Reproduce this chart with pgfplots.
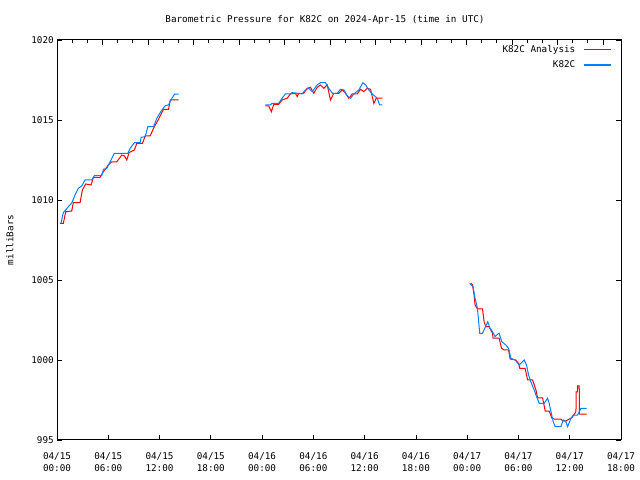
\documentclass[border=0pt]{standalone}
\usepackage{fontspec}
\setmainfont{DejaVu Sans Mono}
\usepackage{pgfplots}
\pgfplotsset{compat=1.18}
\definecolor{obsblue}{RGB}{0,128,255}
\begin{document}
\fontsize{9.3bp}{12bp}\selectfont
\begin{tikzpicture}[x=1bp,y=1bp]
\useasboundingbox (0,0) rectangle (640,480);
% top axis ticks (different spacing)
\begin{axis}[at={(57bp,40bp)}, anchor=south west, scale only axis,
  width=564bp, height=400bp, xmin=0, xmax=564, ymin=0, ymax=1,
  axis line style={draw=none}, xtick pos=right, ytick=\empty,
  xtick={0,45.5,...,564}, minor xtick={15.17,30.33,60.67,75.83,106.17,121.33,151.67,166.83,197.17,212.33,242.67,257.83,288.17,303.33,333.67,348.83,379.17,394.33,424.67,439.83,470.17,485.33,515.67,530.83},
  xticklabels={}, tick align=inside, major tick length=5bp, minor tick length=3bp,
  tick style={black, line width=0.8bp}]
\end{axis}
\begin{axis}[at={(57bp,40bp)}, anchor=south west, scale only axis,
  width=564bp, height=400bp,
  xmin=0, xmax=66, ymin=995, ymax=1020,
  xtick={0,6,...,66},
  xticklabels={{04/15\\00:00},{04/15\\06:00},{04/15\\12:00},{04/15\\18:00},{04/16\\00:00},{04/16\\06:00},{04/16\\12:00},{04/16\\18:00},{04/17\\00:00},{04/17\\06:00},{04/17\\12:00},{04/17\\18:00}},
  xticklabel style={align=center, font=\fontsize{9.3bp}{12bp}\selectfont, yshift=-9bp},
  ytick={995,1000,...,1020},
  yticklabel style={/pgf/number format/assume math mode=true, /pgf/number format/1000 sep={}, font=\fontsize{9.3bp}{12bp}\selectfont},
  xtick pos=left, ytick pos=both,
  tick align=inside, major tick length=5bp,
  tick style={black, line width=0.8bp},
  axis line style={black, line width=1bp},
  title={Barometric Pressure for K82C on 2024-Apr-15 (time in UTC)},
  title style={anchor=base, at={(0.5,1)}, yshift=12bp, xshift=-14bp, font=\fontsize{9.3bp}{12bp}\selectfont},
  ylabel={milliBars},
  every axis y label/.style={at={(axis description cs:0,0.5)}, xshift=-47bp, rotate=90, anchor=center, font=\fontsize{9.3bp}{12bp}\selectfont},
  unbounded coords=jump,
  legend style={at={(1,1)}, anchor=north east, xshift=-8bp, yshift=-2bp, draw=none, fill=none, font=\fontsize{9.3bp}{12bp}\selectfont, row sep=3bp, column sep=6bp, inner sep=1bp},
  legend cell align=right, legend plot pos=right,
  legend image code/.code={\draw[#1, line width=1.5bp] (0bp,0bp) -- (27bp,0bp);},
]
\addplot[red, line width=1bp, sharp plot, no markers] coordinates {
(0.35,1008.54) (0.74,1008.54) (1.02,1009.27) (1.72,1009.31) (1.91,1009.83) (2.70,1009.83) (2.97,1010.63) (3.36,1011.00) (3.99,1010.94) (4.26,1011.42) (5.04,1011.42) (5.43,1011.77) (6.01,1012.19) (6.41,1012.39) (7.00,1012.39) (7.58,1012.81) (7.89,1012.75) (8.17,1012.50) (8.44,1012.96) (9.06,1013.13) (9.34,1013.54) (10.00,1013.54) (10.32,1014.00) (10.90,1014.00) (11.29,1014.48) (11.88,1015.04) (12.46,1015.67) (13.05,1015.67) (13.25,1016.25) (14.22,1016.25)
(20,nan)
(24.38,1015.88) (24.77,1015.88) (25.09,1015.52) (25.36,1015.98) (25.94,1015.98) (26.34,1016.25) (26.93,1016.36) (27.32,1016.63) (27.90,1016.67) (28.10,1016.46) (28.29,1016.67) (28.87,1016.67) (29.27,1016.98) (29.66,1017.04) (30.05,1016.67) (30.45,1017.04) (30.83,1017.19) (31.22,1016.98) (31.62,1017.19) (32.00,1016.25) (32.39,1016.67) (32.98,1016.67) (33.38,1016.88) (33.76,1016.67) (34.15,1016.36) (34.55,1016.63) (35.13,1016.63) (35.52,1016.92) (35.91,1016.77) (36.30,1016.98) (36.69,1016.92) (37.08,1016.04) (37.36,1016.36) (38.07,1016.36)
(44,nan)
(48.45,1004.80) (48.62,1004.69) (48.81,1004.06) (48.92,1003.44) (49.20,1003.19) (49.79,1003.19) (49.98,1002.39) (50.18,1002.08) (50.56,1002.08) (50.96,1001.67) (51.03,1001.36) (51.74,1001.36) (52.02,1000.73) (52.32,1000.63) (52.84,1000.63) (53.03,1000.06) (53.69,1000.00) (54.01,999.79) (54.16,999.48) (54.78,999.48) (55.07,998.75) (55.65,998.75) (56.04,998.13) (56.24,997.64) (56.82,997.64) (57.13,996.81) (57.60,996.81) (57.91,996.36) (58.18,996.31) (58.97,996.31) (59.17,996.19) (59.55,996.19) (59.94,996.31) (60.26,996.39) (60.73,996.77) (60.75,998.00) (60.90,998.00) (60.92,998.38) (61.11,998.38) (61.14,996.61) (61.98,996.61)
};
\addlegendentry{K82C Analysis}
\addplot[obsblue, line width=1bp, sharp plot, no markers] coordinates {
(0.47,1008.54) (0.74,1009.21) (1.29,1009.56) (1.72,1009.81) (2.11,1010.31) (2.50,1010.73) (2.90,1010.88) (3.28,1011.25) (4.07,1011.25) (4.37,1011.52) (5.24,1011.52) (5.43,1011.92) (5.83,1011.98) (6.21,1012.39) (6.72,1012.92) (8.29,1012.92) (8.56,1013.23) (9.06,1013.58) (9.73,1013.58) (9.85,1013.92) (10.32,1013.96) (10.63,1014.58) (11.29,1014.58) (11.69,1015.11) (12.19,1015.56) (12.66,1015.89) (13.05,1015.94) (13.45,1016.36) (13.75,1016.61) (14.22,1016.61)
(20,nan)
(24.38,1015.94) (24.97,1015.94) (25.17,1016.04) (25.94,1016.04) (26.34,1016.36) (26.73,1016.63) (27.32,1016.63) (27.51,1016.71) (28.69,1016.63) (29.07,1016.88) (29.46,1016.98) (29.86,1016.77) (30.45,1017.19) (30.83,1017.33) (31.42,1017.33) (31.81,1016.98) (32.21,1016.67) (32.79,1016.67) (33.18,1016.92) (33.56,1016.88) (33.96,1016.50) (34.35,1016.36) (34.74,1016.63) (35.32,1016.88) (35.79,1017.33) (36.11,1017.19) (36.49,1016.88) (36.89,1016.63) (37.48,1016.36) (37.75,1015.94) (38.07,1015.94)
(44,nan)
(48.30,1004.79) (48.69,1004.58) (48.92,1003.86) (49.20,1003.23) (49.32,1002.50) (49.47,1001.67) (49.79,1001.67) (50.09,1002.02) (50.41,1002.39) (50.64,1002.02) (50.96,1001.77) (51.27,1001.46) (51.55,1001.61) (51.74,1001.67) (52.05,1001.14) (52.52,1000.94) (52.84,1000.73) (53.11,1000.11) (53.61,1000.00) (54.08,999.69) (54.28,999.79) (54.67,1000.00) (54.95,999.69) (55.18,999.06) (55.45,998.64) (55.84,998.13) (56.12,997.71) (56.43,997.29) (57.01,997.29) (57.41,997.61) (57.60,997.29) (57.80,996.77) (58.07,996.14) (58.30,995.83) (58.97,995.83) (59.24,996.25) (59.55,996.14) (59.75,995.83) (60.14,996.36) (60.41,996.56) (60.92,996.56) (61.31,996.98) (61.98,996.98)
};
\addlegendentry{K82C}
\end{axis}
\end{tikzpicture}
\end{document}
